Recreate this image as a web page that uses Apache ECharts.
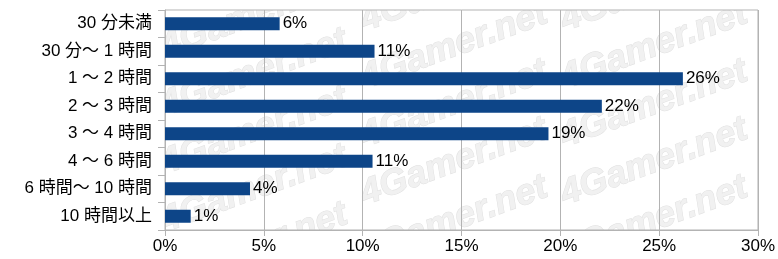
<!DOCTYPE html>
<html><head><meta charset="utf-8">
<script src="https://cdn.jsdelivr.net/npm/echarts@6/dist/echarts.min.js"></script>
<style>html,body{margin:0;padding:0;background:#fff}#c{width:778px;height:259px}</style>
</head><body><div id="c"></div>
<script>
const categories = ['30 分未満','30 分〜 1 時間','1 〜 2 時間','2 〜 3 時間','3 〜 4 時間','4 〜 6 時間','6 時間〜 10 時間','10 時間以上'];
const values = [5.8, 10.6, 26.2, 22.1, 19.4, 10.5, 4.3, 1.3];
const xTicks = [0, 5, 10, 15, 20, 25, 30];

const font = '"Liberation Sans", "Noto Sans CJK JP", sans-serif';
const W = 778, H = 259, L = 165, R = 19, T = 10, B = 29;
const chart = echarts.init(document.getElementById('c'), null, {renderer: 'canvas'});

// faint "4Gamer.net" watermark tiles (decoration only), clipped to plot area by white masks
const wm = [];
[[254, -12], [454, -12], [654, -12]].forEach(([cx, y0], i) => {
  const off = i === 0 ? 27 : 0;
  for (let k = -1; k < 6; k++) {
    wm.push({
      type: 'text', x: cx, y: y0 + off + 58 * k, rotation: 0.35, z: -10, silent: true,
      style: {text: '4Gamer.net', fontSize: 36, fontWeight: 'bold', fontStyle: 'italic',
        fontFamily: '"Liberation Sans Narrow", "Liberation Sans", sans-serif', fill: '#f1f1f1', stroke: '#e0e0e0', lineWidth: 1,
        align: 'center', verticalAlign: 'middle'}
    });
  }
});
const mask = {fill: '#fff'};
wm.push({type: 'rect', z: -5, silent: true, shape: {x: 0, y: 0, width: W, height: T}, style: mask});
wm.push({type: 'rect', z: -5, silent: true, shape: {x: 0, y: 0, width: L, height: H}, style: mask});
wm.push({type: 'rect', z: -5, silent: true, shape: {x: W - R, y: 0, width: R, height: H}, style: mask});
wm.push({type: 'rect', z: -5, silent: true, shape: {x: 0, y: H - B, width: W, height: B}, style: mask});

chart.setOption({
  animation: false,
  graphic: {elements: wm},
  grid: {left: L, right: R, top: T, bottom: B, show: true, borderColor: '#b3b3b3', borderWidth: 1, containLabel: false},
  xAxis: {
    type: 'value', min: xTicks[0], max: xTicks[xTicks.length - 1], interval: 5,
    axisLine: {show: true, lineStyle: {color: '#b3b3b3'}},
    axisTick: {show: true, length: 6, lineStyle: {color: '#b3b3b3'}},
    splitLine: {show: true, lineStyle: {color: '#b3b3b3'}},
    axisLabel: {formatter: '{value}%', color: '#000', fontSize: 17, fontFamily: font, margin: 8}
  },
  yAxis: {
    type: 'category', data: categories, inverse: true,
    axisLine: {show: true, lineStyle: {color: '#b3b3b3'}},
    axisTick: {show: true, length: 7, lineStyle: {color: '#b3b3b3'}},
    axisLabel: {color: '#000', fontSize: 17, fontFamily: font, margin: 13}
  },
  series: [{
    type: 'bar', data: values, barWidth: 13,
    itemStyle: {color: '#0d4588'},
    label: {show: true, position: 'right', distance: 3, color: '#000', fontSize: 17, fontFamily: font,
      formatter: p => Math.round(p.value) + '%'}
  }]
});
</script></body></html>
